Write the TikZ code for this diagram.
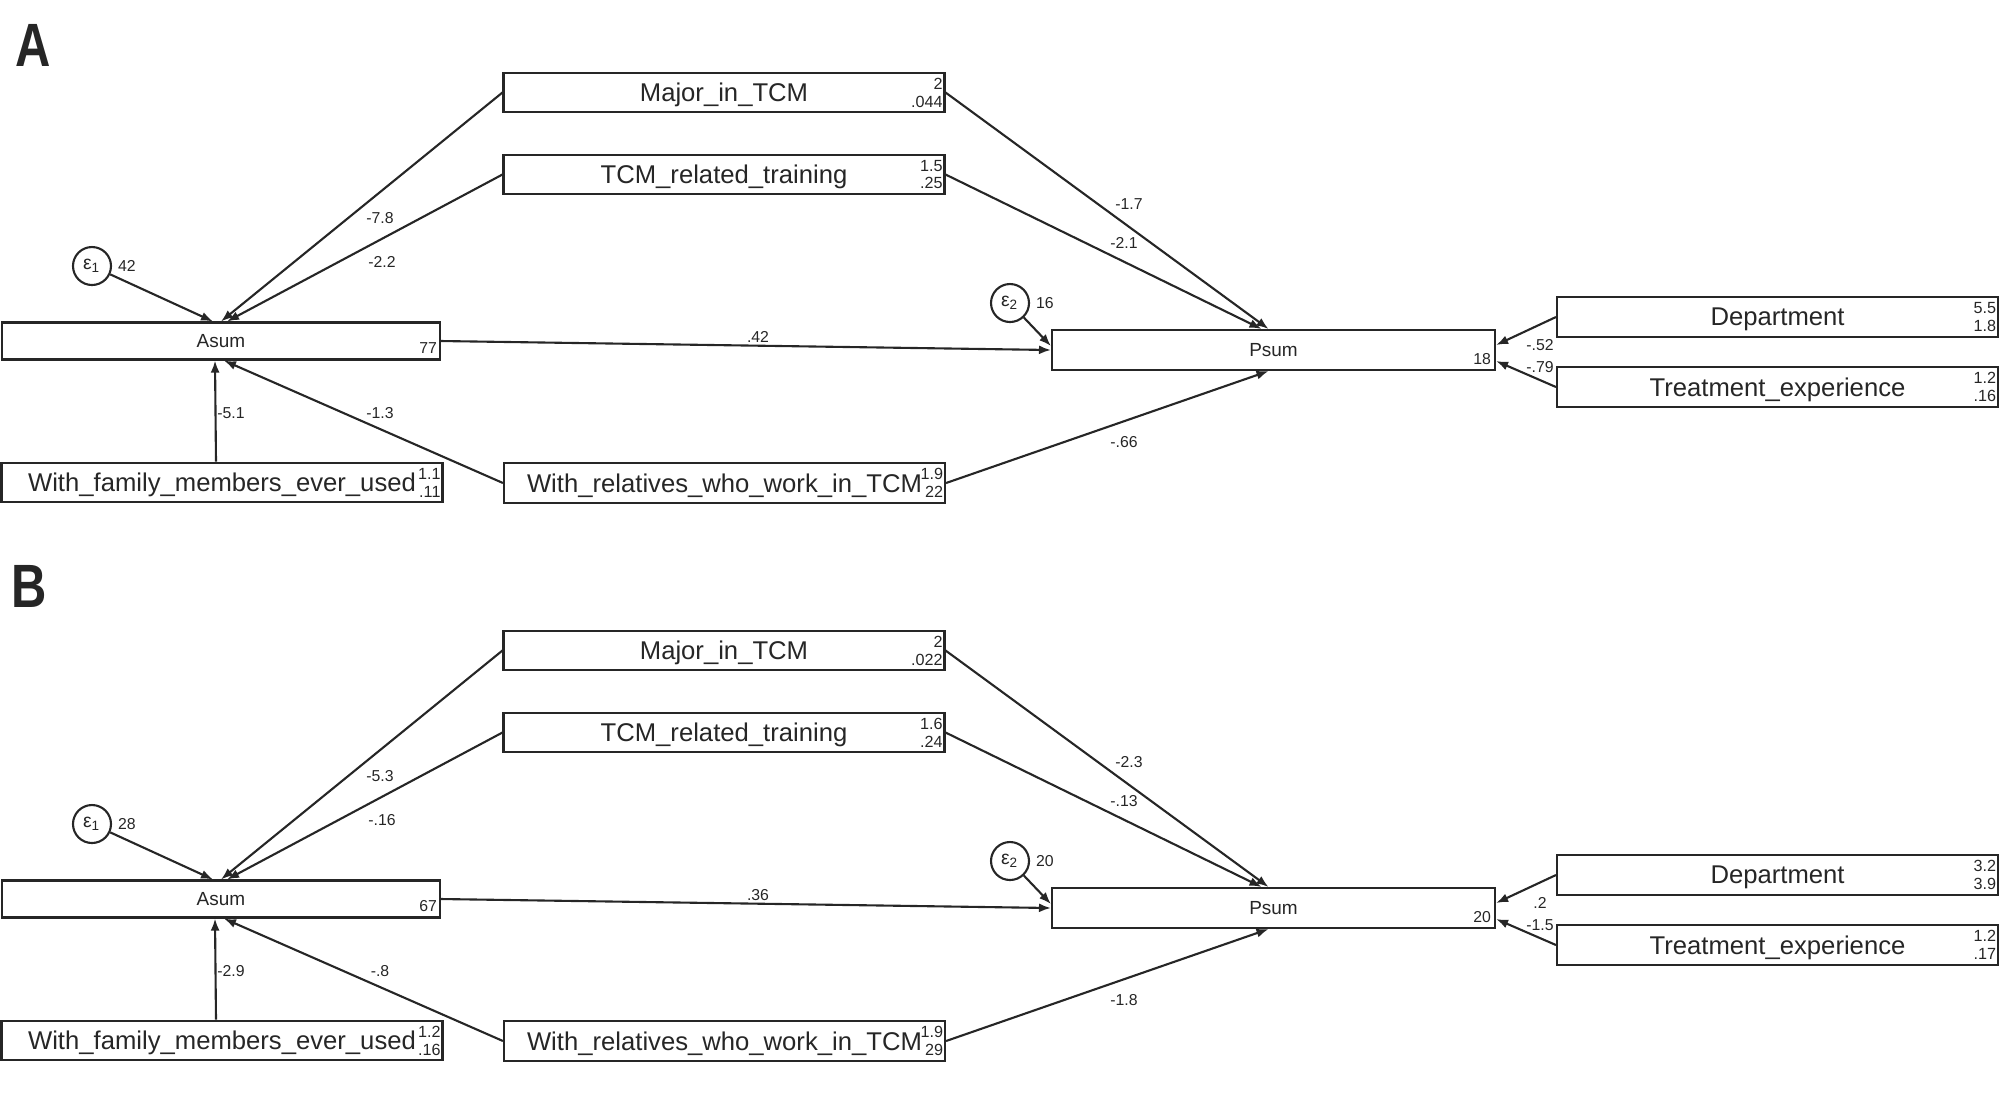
\documentclass[tikz,border=0pt]{standalone}
\usepackage{fontspec}
\setmainfont{Liberation Sans}
\usetikzlibrary{arrows.meta,positioning}

\begin{document}
\begin{tikzpicture}[x=0.1mm, y=-0.1mm, line width=0.6pt, color=black!85,
  var/.style={draw, minimum width=4.41cm, minimum height=3.95mm, inner sep=0pt, text depth=0pt, font=\fontsize{7.3}{8}\selectfont},
  sumvar/.style={draw, minimum height=3.7mm, inner sep=0pt, text depth=0pt, font=\fontsize{5.4}{6}\selectfont},
  err/.style={draw, circle, minimum size=3.8mm, inner sep=0pt, font=\fontsize{5.5}{6}\selectfont},
  coef/.style={font=\fontsize{4.5}{5}\selectfont, inner sep=0pt},
  corner/.style={font=\fontsize{4.6}{5.1}\selectfont, inner sep=0pt, align=right, anchor=east},
  link/.style={-{Latex[length=1.2mm, width=0.9mm]}},
  panel/.style={font=\fontsize{17.4}{20}\selectfont\bfseries, xscale=0.8, transform shape, inner sep=0pt}]
\useasboundingbox (0,0) rectangle (2008,1109);

% panel A
\node[panel] (labA) at (33,45) {A};
\node[var] (majorA) at (724,92.5) {Major\_in\_TCM};
\node[var] (trainA) at (724,174.5) {TCM\_related\_training};
\node[sumvar, minimum width=4.38cm] (asumA) at (221,341) {Asum};
\node[var] (familyA) at (222,482.5) {With\_family\_members\_ever\_used};
\node[var] (relatA) at (724.5,483) {With\_relatives\_who\_work\_in\_TCM};
\node[sumvar, minimum width=4.43cm, minimum height=4mm] (psumA) at (1273.5,350) {Psum};
\node[var] (deptA) at (1777.5,317) {Department};
\node[var] (treatA) at (1777.5,387) {Treatment\_experience};
\node[err] (eA1) at (92,266) {ε\textsubscript{1}};
\node[err] (eA2) at (1010,303) {ε\textsubscript{2}};

\node[coef, right=0.5mm of eA1] {42};
\node[coef, right=0.5mm of eA2] {16};
\node[coef, anchor=east] at ([xshift=-0.3mm,yshift=-0.7mm]asumA.east) {77};
\node[coef, anchor=east] at ([xshift=-0.4mm,yshift=-0.9mm]psumA.east) {18};
\node[corner] at ([xshift=-0.2mm]majorA.east) {2\\.044};
\node[corner] at ([xshift=-0.2mm]trainA.east) {1.5\\.25};
\node[corner] at ([xshift=-0.2mm]familyA.east) {1.1\\.11};
\node[corner] at ([xshift=-0.2mm]relatA.east) {1.9\\22};
\node[corner] at ([xshift=-0.2mm]deptA.east) {5.5\\1.8};
\node[corner] at ([xshift=-0.2mm]treatA.east) {1.2\\.16};

\draw[link] (eA1) -- ([xshift=-0.8mm]asumA.north);
\draw[link] (majorA.west) -- (asumA.north);
\draw[link] (trainA.west) -- ([xshift=0.6mm]asumA.north);
\draw[link] ([xshift=-0.6mm]familyA.north) -- ([xshift=-0.6mm]asumA.south);
\draw[link] (relatA.west) -- ([xshift=0.3mm]asumA.south);
\draw[link] (asumA.east) -- (psumA.west);
\draw[link] (eA2) -- ([yshift=0.4mm]psumA.west);
\draw[link] (majorA.east) -- ([xshift=-0.5mm]psumA.north);
\draw[link] (trainA.east) -- ([xshift=-1.2mm]psumA.north);
\draw[link] (relatA.east) -- ([xshift=-0.5mm]psumA.south);
\draw[link] (deptA.west) -- ([yshift=0.5mm]psumA.east);
\draw[link] (treatA.west) -- ([yshift=-1.1mm]psumA.east);

\node[coef] at (380,218) {-7.8};
\node[coef] at (382,262) {-2.2};
\node[coef] at (758,337) {.42};
\node[coef] at (1129,204) {-1.7};
\node[coef] at (1124,243) {-2.1};
\node[coef] at (1540,345) {-.52};
\node[coef] at (1540,367) {-.79};
\node[coef] at (231,413) {-5.1};
\node[coef] at (380,413) {-1.3};
\node[coef] at (1124,442) {-.66};

% panel B
\node[panel] (labB) at (29,586) {B};
\begin{scope}[yshift=-5.58cm]
\node[var] (majorB) at (724,92.5) {Major\_in\_TCM};
\node[var] (trainB) at (724,174.5) {TCM\_related\_training};
\node[sumvar, minimum width=4.38cm] (asumB) at (221,341) {Asum};
\node[var] (familyB) at (222,482.5) {With\_family\_members\_ever\_used};
\node[var] (relatB) at (724.5,483) {With\_relatives\_who\_work\_in\_TCM};
\node[sumvar, minimum width=4.43cm, minimum height=4mm] (psumB) at (1273.5,350) {Psum};
\node[var] (deptB) at (1777.5,317) {Department};
\node[var] (treatB) at (1777.5,387) {Treatment\_experience};
\node[err] (eB1) at (92,266) {ε\textsubscript{1}};
\node[err] (eB2) at (1010,303) {ε\textsubscript{2}};

\node[coef, right=0.5mm of eB1] {28};
\node[coef, right=0.5mm of eB2] {20};
\node[coef, anchor=east] at ([xshift=-0.3mm,yshift=-0.7mm]asumB.east) {67};
\node[coef, anchor=east] at ([xshift=-0.4mm,yshift=-0.9mm]psumB.east) {20};
\node[corner] at ([xshift=-0.2mm]majorB.east) {2\\.022};
\node[corner] at ([xshift=-0.2mm]trainB.east) {1.6\\.24};
\node[corner] at ([xshift=-0.2mm]familyB.east) {1.2\\.16};
\node[corner] at ([xshift=-0.2mm]relatB.east) {1.9\\29};
\node[corner] at ([xshift=-0.2mm]deptB.east) {3.2\\3.9};
\node[corner] at ([xshift=-0.2mm]treatB.east) {1.2\\.17};

\draw[link] (eB1) -- ([xshift=-0.8mm]asumB.north);
\draw[link] (majorB.west) -- (asumB.north);
\draw[link] (trainB.west) -- ([xshift=0.6mm]asumB.north);
\draw[link] ([xshift=-0.6mm]familyB.north) -- ([xshift=-0.6mm]asumB.south);
\draw[link] (relatB.west) -- ([xshift=0.3mm]asumB.south);
\draw[link] (asumB.east) -- (psumB.west);
\draw[link] (eB2) -- ([yshift=0.4mm]psumB.west);
\draw[link] (majorB.east) -- ([xshift=-0.5mm]psumB.north);
\draw[link] (trainB.east) -- ([xshift=-1.2mm]psumB.north);
\draw[link] (relatB.east) -- ([xshift=-0.5mm]psumB.south);
\draw[link] (deptB.west) -- ([yshift=0.5mm]psumB.east);
\draw[link] (treatB.west) -- ([yshift=-1.1mm]psumB.east);

\node[coef] at (380,218) {-5.3};
\node[coef] at (382,262) {-.16};
\node[coef] at (758,337) {.36};
\node[coef] at (1129,204) {-2.3};
\node[coef] at (1124,243) {-.13};
\node[coef] at (1540,345) {.2};
\node[coef] at (1540,367) {-1.5};
\node[coef] at (231,413) {-2.9};
\node[coef] at (380,413) {-.8};
\node[coef] at (1124,442) {-1.8};
\end{scope}
\end{tikzpicture}
\end{document}
